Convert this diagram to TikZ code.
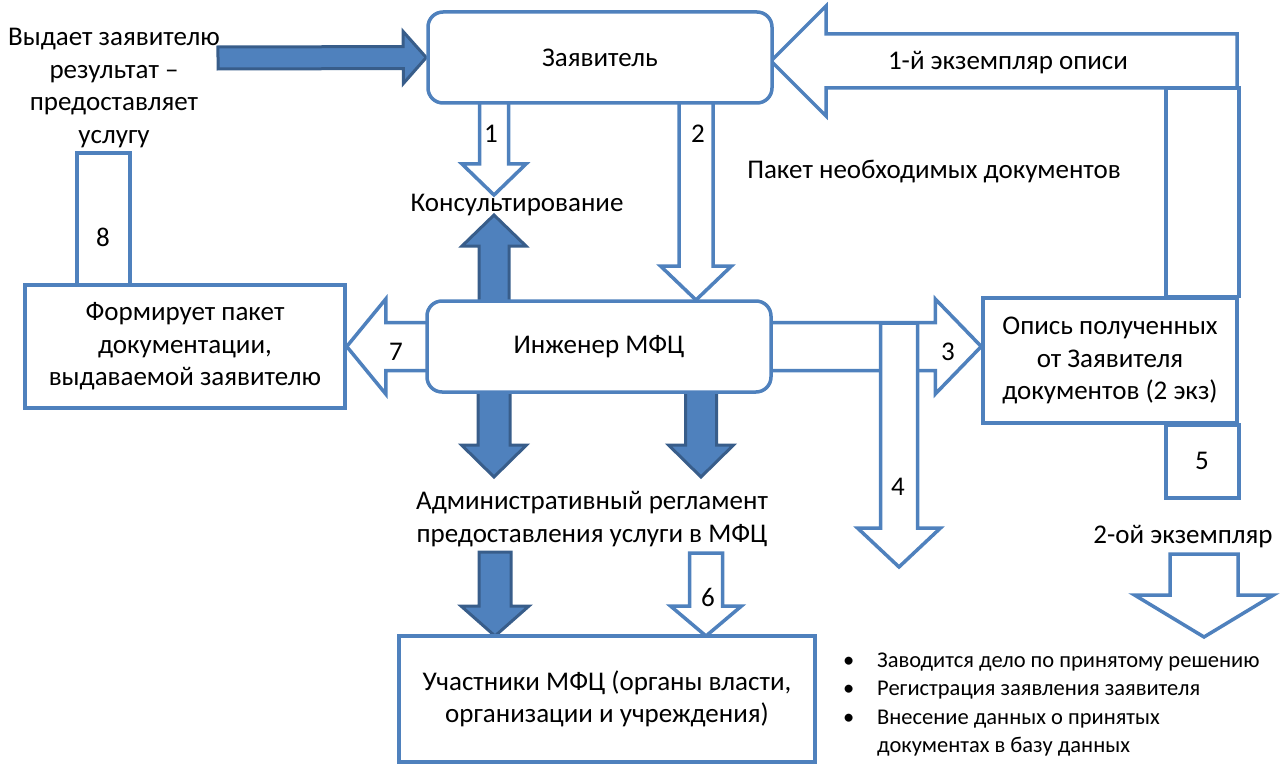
\documentclass[tikz,border=0pt]{standalone}
\usepackage{fontspec}
\setmainfont{Carlito}
\usetikzlibrary{calc,backgrounds}
\definecolor{mfcblue}{RGB}{79,129,189}
\definecolor{mfcdark}{RGB}{56,93,138}
\tikzset{
    basic/.style   = {draw=mfcblue, line width=3.5pt, fill=white, align=center},
    actor/.style   = {basic, rounded corners=15pt, minimum width=344pt, minimum height=91pt},
    doc box/.style = {basic, rectangle},
    caption/.style = {align=center, inner sep=0pt},
    num/.style     = {inner sep=0pt},
    open arrow/.style  = {draw=mfcblue, line width=3.5pt, fill=white},
    solid arrow/.style = {draw=mfcdark, line width=3pt, fill=mfcblue}
}
% block arrow: [style]{start}{tip}{half shaft}{half head}{head length}
\newcommand{\blockarrow}[6][]{%
    \coordinate (hb) at ($#3!#6!#2$);
    \draw[#1] ($#2!#4!90:#3$) -- ($(hb)!#4!90:#3$) -- ($(hb)!#5!90:#3$) -- #3
        -- ($(hb)!#5!-90:#3$) -- ($(hb)!#4!-90:#3$) -- ($#2!#4!-90:#3$) -- cycle;}

\begin{document}
\begin{tikzpicture}[x=1pt, y=-1pt, font=\fontsize{27}{32.5}\selectfont]
    \useasboundingbox (0,0) rectangle (1286,773);
    % boxes
    \node[actor] (zayav) at (600,57.5) {Заявитель};
    \node[actor] (ing) at (599,346.5) {Инженер МФЦ};
    \node[doc box, minimum width=320pt, minimum height=123pt] (form) at (185,346.5)
        {Формирует пакет\\документации,\\выдаваемой заявителю};
    \node[doc box, minimum width=254pt, minimum height=125pt] (opis) at (1110,360.5)
        {Опись полученных\\от Заявителя\\документов (2 экз)};
    \node[doc box, minimum width=416pt, minimum height=126pt] (uchast) at (607,699)
        {Участники МФЦ (органы власти,\\организации и учреждения)};
    % texts
    \node[caption] (vydaet) at (114,88) {Выдает заявителю\\результат –\\предоставляет\\услугу};
    \node[caption] (konsult) at (517,205) {Консультирование};
    \node[caption] (paket) at (934,172) {Пакет необходимых документов};
    \node[caption] (ekz1) at (1008,63) {1-й экземпляр описи};
    \node[caption] (reglament) at (592,519) {Административный регламент\\предоставления услуги в МФЦ};
    \node[caption] (ekz2) at (1183,537) {2-ой экземпляр};
    \node[caption, anchor=north west, font=\fontsize{22.5}{28.5}\selectfont] (spisok) at (843,647)
        {\begin{tabular}{@{}p{34pt}@{}l@{}}
            \textbullet & Заводится дело по принятому решению\\
            \textbullet & Регистрация заявления заявителя\\
            \textbullet & Внесение данных о принятых\\
                        & документах в базу данных
        \end{tabular}};
    % arrows
    \begin{pgfonlayer}{background}
        \blockarrow[solid arrow]{(218,58)}{(zayav.west)}{11pt}{26pt}{23pt}
        \blockarrow[solid arrow]{(494,330)}{(494,215)}{15pt}{32pt}{31pt}
        \blockarrow[solid arrow]{(494,360)}{(494,477)}{16pt}{32.5pt}{32pt}
        \blockarrow[solid arrow]{(701,360)}{(701,477)}{15.5pt}{32.5pt}{32pt}
        \blockarrow[solid arrow]{(495,552)}{(495,636)}{16pt}{34pt}{30pt}
        \blockarrow[open arrow]{(494,60)}{(494,195)}{14.5pt}{32pt}{31pt}
        \blockarrow[open arrow]{(696,60)}{(696,300)}{17pt}{35.5pt}{34pt}
        \blockarrow[open arrow]{(ing.center)}{(ing.center -| opis.west)}{24pt}{47.5pt}{46pt}
        \blockarrow[open arrow]{(899,323)}{(899,567)}{18.5pt}{41.5pt}{39pt}
        \blockarrow[open arrow]{(ing.center)}{(ing.center -| form.east)}{24pt}{47.5pt}{39pt}
        \blockarrow[open arrow]{(706,553)}{(706,636)}{16.5pt}{35.5pt}{30pt}
        \blockarrow[open arrow]{(1204,554)}{(1204,637)}{34pt}{69.5pt}{42pt}
        \blockarrow[open arrow]{(1237,61)}{(771,61)}{27pt}{55pt}{55pt}
        \draw[open arrow] (1166,88) rectangle (opis.north east);
        \draw[open arrow] (opis.south east) rectangle (1166,498);
        \draw[open arrow] (77,153) rectangle (130,285);
    \end{pgfonlayer}
    % numbers
    \node[num] (n1) at (491,134) {1};
    \node[num] (n2) at (698,134) {2};
    \node[num] (n3) at (948,352) {3};
    \node[num] (n4) at (898,487) {4};
    \node[num] (n5) at (1202,461) {5};
    \node[num] (n6) at (708,597) {6};
    \node[num] (n7) at (396,352) {7};
    \node[num] (n8) at (103,237) {8};
\end{tikzpicture}
\end{document}
